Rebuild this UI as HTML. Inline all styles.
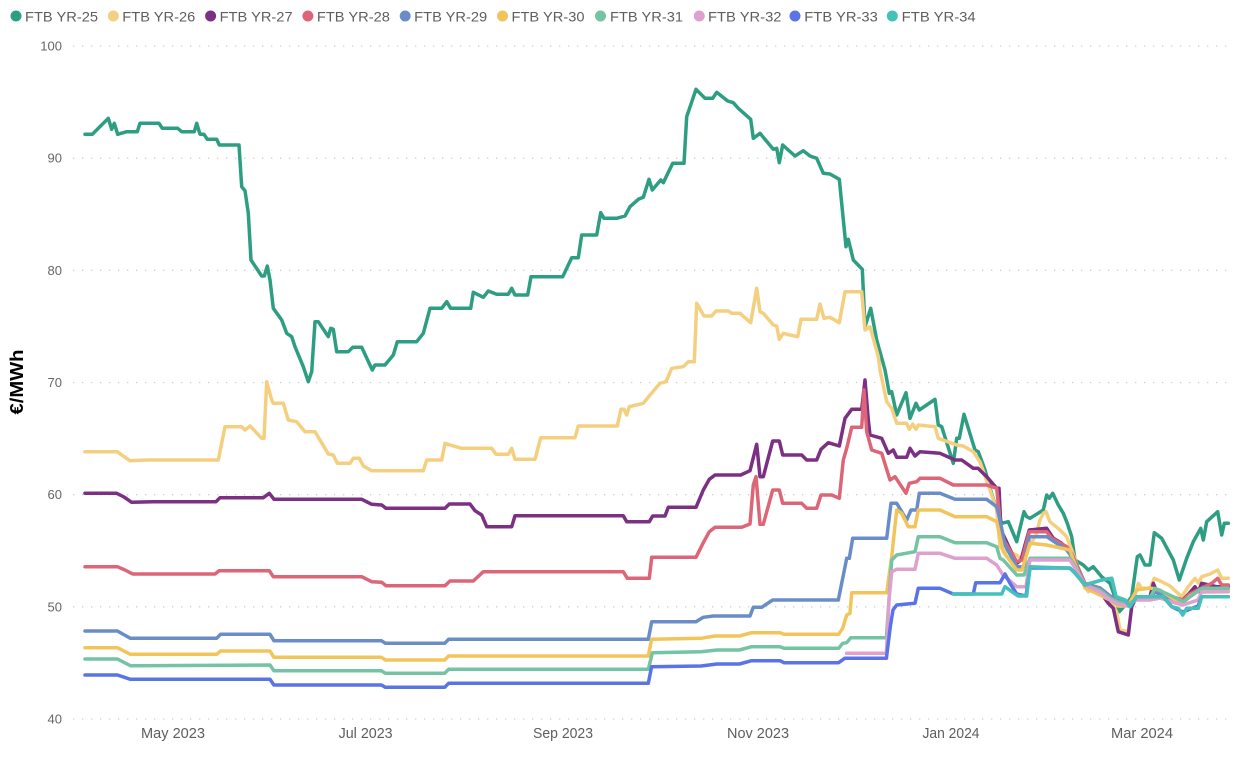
<!DOCTYPE html>
<html>
<head>
<meta charset="utf-8">
<style>
html,body{margin:0;padding:0;background:#fff;}
svg{display:block;}
.lg{font-family:"Liberation Sans",sans-serif;font-size:14px;fill:#605E5C;}
.ax{font-family:"Liberation Sans",sans-serif;font-size:13px;fill:#666;}
.xl{font-family:"Liberation Sans",sans-serif;font-size:15px;fill:#605E5C;}
polyline{fill:none;stroke-width:3.5;stroke-linejoin:round;stroke-linecap:round;}
</style>
</head>
<body>
<svg width="1255" height="765" viewBox="0 0 1255 765" xmlns="http://www.w3.org/2000/svg">
<rect width="1255" height="765" fill="#fff"/>
<g>
<circle cx="16" cy="16" r="5.5" fill="#2E9E83"/><text class="lg" x="25" y="21.5" textLength="73" lengthAdjust="spacingAndGlyphs">FTB YR-25</text>
<circle cx="113.3" cy="16" r="5.5" fill="#F4CF80"/><text class="lg" x="122.3" y="21.5" textLength="73" lengthAdjust="spacingAndGlyphs">FTB YR-26</text>
<circle cx="210.6" cy="16" r="5.5" fill="#7B3083"/><text class="lg" x="219.6" y="21.5" textLength="73" lengthAdjust="spacingAndGlyphs">FTB YR-27</text>
<circle cx="307.9" cy="16" r="5.5" fill="#DC6677"/><text class="lg" x="316.9" y="21.5" textLength="73" lengthAdjust="spacingAndGlyphs">FTB YR-28</text>
<circle cx="405.2" cy="16" r="5.5" fill="#6A8DC8"/><text class="lg" x="414.2" y="21.5" textLength="73" lengthAdjust="spacingAndGlyphs">FTB YR-29</text>
<circle cx="502.5" cy="16" r="5.5" fill="#F2C55C"/><text class="lg" x="511.5" y="21.5" textLength="73" lengthAdjust="spacingAndGlyphs">FTB YR-30</text>
<circle cx="600.5" cy="16" r="5.5" fill="#74C3A4"/><text class="lg" x="610" y="21.5" textLength="73" lengthAdjust="spacingAndGlyphs">FTB YR-31</text>
<circle cx="699.3" cy="16" r="5.5" fill="#DDA0CF"/><text class="lg" x="708" y="21.5" textLength="73.5" lengthAdjust="spacingAndGlyphs">FTB YR-32</text>
<circle cx="795" cy="16" r="5.5" fill="#5A74E8"/><text class="lg" x="804.3" y="21.5" textLength="73.5" lengthAdjust="spacingAndGlyphs">FTB YR-33</text>
<circle cx="892.3" cy="16" r="5.5" fill="#44C1B9"/><text class="lg" x="901.7" y="21.5" textLength="74" lengthAdjust="spacingAndGlyphs">FTB YR-34</text>
</g>
<g stroke="#CFCFCF" stroke-width="1.3" stroke-dasharray="1.3 7.7">
<line x1="73" y1="46" x2="1232" y2="46"/>
<line x1="73" y1="158.2" x2="1232" y2="158.2"/>
<line x1="73" y1="270.3" x2="1232" y2="270.3"/>
<line x1="73" y1="382.5" x2="1232" y2="382.5"/>
<line x1="73" y1="494.7" x2="1232" y2="494.7"/>
<line x1="73" y1="606.8" x2="1232" y2="606.8"/>
<line x1="73" y1="719" x2="1232" y2="719"/>
</g>
<g text-anchor="end">
<text class="ax" x="62" y="50.5">100</text>
<text class="ax" x="62" y="162.7">90</text>
<text class="ax" x="62" y="274.8">80</text>
<text class="ax" x="62" y="387">70</text>
<text class="ax" x="62" y="499.2">60</text>
<text class="ax" x="62" y="611.3">50</text>
<text class="ax" x="62" y="723.5">40</text>
</g>
<text x="0" y="0" transform="translate(23,382) rotate(-90)" text-anchor="middle" font-family="Liberation Sans, sans-serif" font-weight="bold" font-size="18" fill="#000" textLength="65" lengthAdjust="spacingAndGlyphs">€/MWh</text>
<g text-anchor="middle">
<text class="xl" x="173" y="738" textLength="64" lengthAdjust="spacingAndGlyphs">May 2023</text>
<text class="xl" x="365.6" y="738" textLength="54" lengthAdjust="spacingAndGlyphs">Jul 2023</text>
<text class="xl" x="563" y="738" textLength="60" lengthAdjust="spacingAndGlyphs">Sep 2023</text>
<text class="xl" x="758" y="738" textLength="62" lengthAdjust="spacingAndGlyphs">Nov 2023</text>
<text class="xl" x="951" y="738" textLength="57" lengthAdjust="spacingAndGlyphs">Jan 2024</text>
<text class="xl" x="1142" y="738" textLength="62" lengthAdjust="spacingAndGlyphs">Mar 2024</text>
</g>
<polyline stroke="#2E9E83" points="85,134.3 92.3,134.3 108.3,118.3 111.7,129.3 114.3,123.3 117.7,134.3 126.7,131.7 137.3,131.7 140,123.3 159,123.3 162.3,128.3 177.7,128.3 181.7,131.7 194.3,131.7 196.7,123.3 200,134.3 204,134.3 207.3,139.3 216.7,139.3 219.3,145 239,145 241.7,186.7 245,190.7 248.3,213.3 251,260 261.7,276 264.3,276 267.3,266 270,280 273.3,308.3 281.7,320 286.7,333.3 291.7,336.7 295,346.7 303.3,366.7 308.3,381.7 311.7,371.7 315,321.7 318.3,321.7 328.3,336.7 330.7,328.3 333.3,329.3 336.7,351.7 348.3,351.7 352.7,347.3 361.7,347.3 372.3,370 375,365 385,365 393.3,355 397.3,341.7 416.7,341.7 423.3,333.3 430,308.3 441.7,308.3 446.7,301.7 450.7,308.3 470.7,308.3 473.3,292.3 483.3,297.3 488.3,291 496.7,294.3 508.3,294.3 511.7,288.3 515,295 527.7,295 531,276.7 562.7,276.7 571.7,257.7 578.3,257.7 581.7,235 596.7,235 600.7,212.7 604,218.3 616.7,218.3 625,216 630,206.7 638.3,199.3 643.3,197.3 649,179.3 652.3,190 660.7,180 663.3,182.7 672.7,163.3 684,163.3 686.7,116.7 696,89.3 705,98.3 712.7,98.3 716.7,92.3 727.7,101 733.3,102.7 738.3,108.3 750.7,119.3 753.3,138.3 760,133.3 773.3,149.3 776.7,148.3 779.3,162.7 782.7,145 795,156 803.3,150.7 810,156 816.7,158.3 823.3,173.3 830,174 839.3,179.3 846,246.7 848.3,239.3 853.3,260 862.3,269.3 865,326.7 870.7,308.3 876.7,340 885,370 889.3,393.3 891.7,391.7 896.7,415 906,392.7 910,418.3 916,403.3 919.3,410 935,399.3 938.3,425 941.7,426.7 953.3,463.3 956.7,438.3 959.3,438.3 964,414.3 975,450 978.3,451.7 985,470 992,495 1001.7,523.3 1008.3,521.7 1016.7,541.7 1024,511.7 1026.7,516.7 1030,518.3 1043.3,510 1046.7,495 1049.3,498.3 1052.7,493.3 1058.3,505 1063.3,513.3 1067.3,523.3 1071.7,536.7 1075,560 1083.3,565 1088.3,570 1093.3,566.7 1101.7,576.7 1110,583.3 1116,600 1119.3,611.7 1126.7,603.3 1131.7,596.7 1137.3,556.7 1140,555 1145,565 1150,565 1154.3,532.7 1161.7,538.3 1173.3,560 1179.3,580 1186.7,558.3 1193.3,541.7 1200.7,528.3 1203.3,540 1206.7,521.7 1217.7,511.7 1221.7,535 1224.3,523.3 1228.3,523.3"/>
<polyline stroke="#F4CF80" points="85,451.7 117.3,451.7 121.7,455 130,460.7 146.7,460 218.3,460 225,426.7 241.7,426.7 245,430 250,426 261.7,438.3 264,438.3 266.7,381.7 271.7,400 273.3,403.3 283.3,403.3 288.3,420 296.7,421.7 305,431.7 315,431.7 328.3,454 333.3,455 337.3,463.3 350,463.3 353.3,458.3 359.3,458.3 363.3,466 371.7,470.7 423.3,470.7 426.7,460 441.7,460 445,443.3 450,445 461.7,448.3 491.7,448.3 496,454.3 508.3,454.3 511.7,448.3 515,459.3 535,459.3 540.7,437.7 575,437.7 578.3,426 617.3,426 621,409.3 624,409.3 626.7,415 629.3,406.7 643.3,403.3 650,395 660,383.3 666,381.7 671.7,368.3 683.3,366.7 688.3,361.7 694.3,361.7 696.7,303.3 704,316 711.7,316 716,311 728.3,311 731.7,313.3 740,313.3 750.7,322.7 756.7,288.3 760,311.7 763.3,313.3 773.3,325 776.7,326 779.3,339.3 783.3,333.3 790,335 797.7,336.7 801,319.3 816.7,319.3 820,304 824,318.3 830,317.3 839.3,322.7 845,291.7 861.7,291.7 865,330 870,326.7 878.3,356.7 880,370 886.7,401.7 891.7,408.3 896.7,423.3 906.7,423.3 909.3,429.3 912.7,424 916,429.3 918.3,425 935,426.7 938.3,438.3 956.7,445 963.3,446 973.3,451.7 980,462 990,490 996.7,510 1000,546.7 1003.3,550 1016.7,555 1021.7,560 1025,555 1030,545 1036,535 1040,520 1043.3,513.3 1046,511.7 1050,521.7 1060,530 1066.7,536.7 1071.7,550 1085,586.7 1088.3,591.7 1095,588 1100,592 1108,600 1113,606 1116.7,612 1120,630 1128.3,631.7 1131.7,606.7 1138.3,583.3 1141.7,588.3 1150,588.3 1154.3,578.3 1161.7,581.7 1170,586 1181.7,596.7 1188.3,586.7 1195,578.3 1198.3,583 1201.7,576.7 1210,574 1217.7,570 1221.7,578.3 1228.3,578.3"/>
<polyline stroke="#7B3083" points="85,493.3 116.7,493.3 124,497 131.7,502.3 153.3,501.7 216,501.7 220,497.7 263.3,497.7 269.3,493.3 274,499.3 361.7,499.3 371.7,504.3 381.7,505 386,508.3 445,508.3 449.3,504 470,504 475,510.7 481.7,515 486.7,526.7 511.7,526.7 515,515.7 623.3,515.7 626.7,521.7 649.3,521.7 652.7,516 665,516 668.3,507.3 696,507.3 703.3,490 709.3,479.3 715,475 740.7,475 750,470.7 756.7,444.3 760,476.7 763.3,476.7 772.7,441 779.3,441 782.7,455 801.7,455 806.7,460 816.7,460 821,449.3 828.3,442.7 839.3,446 845,418.3 851.7,409.3 861.7,409.3 865,380 868.3,420 870,435 881.7,438.3 888.3,453.3 893.3,450 896.7,457.3 906.7,457.3 910,448.3 915,456 920,451.7 940,453.3 955,460 961.7,460 973.3,468.3 978,468.3 986.7,476.7 996.7,488.3 999,488.3 1001,530 1008,545 1016.7,563.3 1021,560 1025,545 1029.3,530 1046.7,528.3 1053.3,538.3 1061.7,543.3 1066.7,548.3 1071.7,555 1083.3,583.3 1091.7,586.7 1100,591.7 1108.3,603.3 1113.3,608.3 1118.3,631.7 1128.3,635 1131.7,606.7 1136.7,596.7 1150,596.7 1153.3,583.3 1156.7,591.7 1171.7,596.7 1182.7,600 1189.3,593.3 1195,586.7 1198.3,591.7 1201.7,583.3 1216.7,586.7 1228.3,586.7"/>
<polyline stroke="#DC6677" points="85,566.7 117.3,566.7 125,570 132.7,574 215,574 219.3,570.7 269.3,570.7 273.3,576.7 361.7,576.7 371.7,581.7 381.7,582.3 386,585.7 445,585.7 450,581 473.3,581 483.3,571.7 623.3,571.7 627.3,578.3 649.3,578.3 651.7,557.3 696,557.3 703.3,542.7 709.3,531.7 715,527.3 741.7,527.3 750,524 753.3,485 756,476.7 760,524.3 763.3,524.3 772.7,490 779.3,490 782.7,503.3 801.7,503.3 806.7,508.3 816.7,508.3 821,495 831.7,495 839.3,498.3 843.3,460 846.7,448.3 851.7,427.3 861.7,427.3 864,390 866.7,431.7 871.7,450 881.7,453.3 890,480 895,476.7 906,493.3 909.3,483.3 916.7,481.7 920,478.3 940,478.3 953.3,485 986.7,485 996.7,488.3 1001.7,536.7 1016.7,561.7 1022,560 1029.3,531.7 1046.7,531.7 1051.7,538.3 1066.7,546.7 1071.7,553.3 1085,583.3 1100,588 1110,596 1118,600 1128,602 1136.7,596.7 1150,596.7 1155,590 1171.7,596.7 1183,600 1190,594 1198,590 1211.7,583.3 1217.7,578.3 1221.7,585 1228.3,585"/>
<polyline stroke="#6A8DC8" points="85,631 117.4,631 130.4,638.3 216.6,638.3 220.6,634.3 270,634.3 273.9,640.7 381.4,640.7 385.4,643.3 444.7,643.3 448.6,639.3 648.3,639.3 651.7,621.7 696,621.7 703.3,617.3 713.3,616 750,616 753.3,607.3 761.7,607.3 772.7,600 838.3,600 842.7,578.3 846.7,558.3 849.3,558.3 852.7,538.3 886.7,538.3 891,503.3 896.7,503.3 906.7,520 911,510 916.7,510 919.3,493.3 940,493.3 955,499.3 986.7,499.3 996.7,506.7 1000,520 1005,545 1016.7,566.7 1024,566.7 1029.3,536.7 1046.7,536.7 1066.7,550 1071.7,556.7 1085,585 1100,588 1110,596 1118,603 1128,603 1136.7,598 1150,598 1155,592 1171.7,600 1183,603 1190,596 1200,590 1228.3,589"/>
<polyline stroke="#F2C55C" points="85,647.7 117.4,647.7 130.4,654.3 216.6,654.3 220.6,651 270,651 273.9,657.3 381.4,657.3 385.4,660 444.7,660 448.6,656 648.3,656 651.6,639.3 701,638.3 715,636 739.4,636 751.6,632.7 780,632.7 784,634.3 838.6,634.3 842.7,628.3 846.7,615 850,613.3 851.7,592.7 886.7,592.7 891.7,556.7 896.7,510 901.7,513.3 908.3,526.7 915,526.7 918.3,510 940,510 955,516.7 986.7,516.7 996.7,521.7 1003.3,551.7 1016.7,570 1022,570 1030,543.3 1046.7,545 1070,550 1073.3,560 1085,588 1100,595 1110,600 1118,606 1128,606 1136.7,590 1150,588 1160,590 1172,598 1183,603 1190,596 1200,590 1228.3,590"/>
<polyline stroke="#74C3A4" points="85,659 117.4,659 130.4,665.7 270,665 273.9,670.7 381.4,670.7 385.4,673.3 444.7,673.3 448.6,669.3 648.3,669.3 652.4,652.7 701,651.7 717,650 739.4,650 751.6,646.7 780,646.7 784,648.3 838.6,648.3 842.7,643.3 846.7,642.7 850.8,637.7 886.4,637.7 891.7,560 896.7,555 915,551.7 918.3,536.7 940,536.7 955,542.7 986.7,542.7 996.7,546.7 1000,558.3 1003.3,560 1016.7,575 1024,575 1030,558.3 1070,558.3 1075,566 1085,585 1100,590 1110,598 1118,602 1128,604 1136,600 1150,598 1155,588.3 1173.3,596.7 1183.3,601.7 1201.7,588.3 1228.3,588.3"/>
<polyline stroke="#DDA0CF" points="846.7,653.3 886.4,653.3 889,600 891.7,571.7 896.7,569.3 915,569.3 918.3,553.3 940,553.3 955,558.3 986.7,558.3 996.7,565 1003,575 1016.7,586.7 1026,586.7 1030,560 1070,560 1075,568 1085,585 1100,592 1110,600 1118,604 1128,606 1136,600 1150,600 1160,598 1172,602 1183,605 1198,600 1201.7,592 1228.3,591.7"/>
<polyline stroke="#5A74E8" points="85,675 117.4,675 130.4,679.3 270,679.3 273.9,685 381.4,685 385.4,687.3 444.7,687.3 448.6,683.3 648.3,683.3 651.6,666.7 701,666 717,664 739.4,664 751.6,660.7 780,660.7 784,662.7 838.6,662.7 844.7,658.3 886.4,658.3 890.4,626 893,610 896.7,605 915,603.3 918.3,588.3 940,588.3 953.3,594 973.3,594 975.7,582.7 1000,582.7 1005,574 1010,583.3 1016.7,594 1026,596 1030,568 1070,568 1075,573 1085,585 1101.7,580 1111.7,578.3 1116,596.7 1125,600 1130,606.7 1136.7,596.7 1163.3,596.7 1171.7,606.7 1182.7,612 1198,606 1201.7,596.7 1228.3,596.7"/>
<polyline stroke="#44C1B9" points="953.3,594 1001.7,594 1005,586.7 1015,594 1018.3,596 1026.7,596 1030,566.7 1070,568.3 1075,573.3 1085,585 1090,583.3 1101.7,580 1111.7,578.3 1116,596.7 1125,600 1130,606.7 1136.7,596.7 1163.3,596.7 1171.7,606.7 1178.3,608.3 1182.7,615 1186.7,608.3 1198.3,608.3 1201.7,596.7 1228.3,596.7"/>
</svg>
</body>
</html>
